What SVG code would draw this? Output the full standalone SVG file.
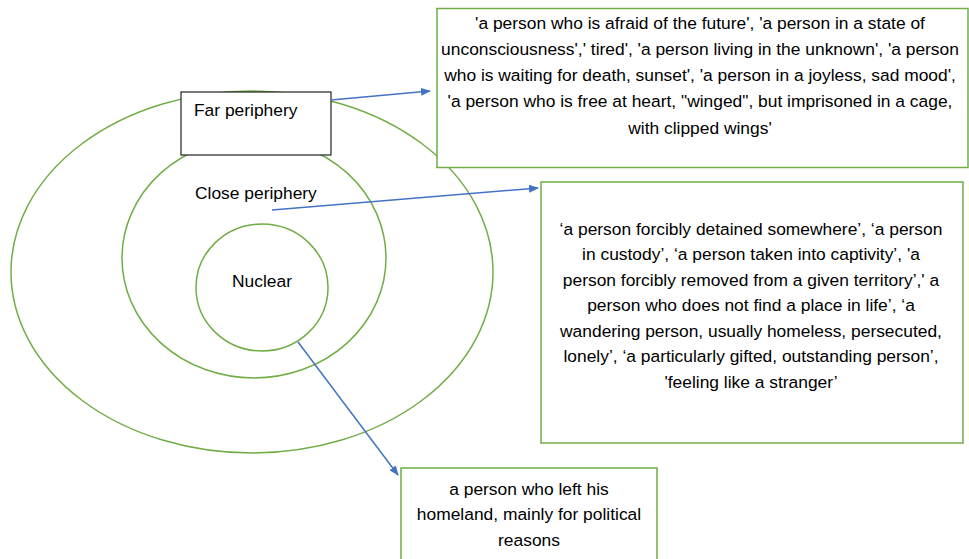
<svg xmlns="http://www.w3.org/2000/svg" width="969" height="559" viewBox="0 0 969 559">
<defs>
<marker id="ah" markerWidth="10" markerHeight="8" refX="9" refY="4" orient="auto" markerUnits="userSpaceOnUse">
<path d="M0,0 L10,4 L0,8 Z" fill="#4472C4"/>
</marker>
<style>
.g{fill:none;stroke:#70AD47;stroke-width:1.5}
.bx{fill:#fff;stroke:#70AD47;stroke-width:1.5}
.t{font-family:"Liberation Sans",Arial,sans-serif;font-size:17.4px;fill:#000}
.c{text-anchor:middle}
.a{stroke:#4472C4;stroke-width:1.5;fill:none;marker-end:url(#ah)}
</style>
</defs>
<rect width="969" height="559" fill="#fff"/>
<g id="outer"><ellipse class="g" cx="252" cy="272" rx="241" ry="181"/></g>
<g id="close"><ellipse class="g" cx="254" cy="258" rx="132" ry="120"/></g>
<g id="nuclear"><ellipse class="g" cx="262" cy="287.5" rx="66" ry="63.5"/><text class="t c" x="262" y="287">Nuclear</text></g>
<g id="far-label"><rect x="181" y="92" width="150" height="63" fill="#fff" stroke="#222" stroke-width="1.2"/><text class="t" x="194" y="116">Far periphery</text></g>
<g id="close-label"><text class="t" x="195" y="199">Close periphery</text></g>
<g id="box-far"><rect class="bx" x="437" y="8.5" width="531" height="159"/>
<text class="t c" x="700"><tspan x="700" y="29">'a person who is afraid of the future', 'a person in a state of</tspan><tspan x="700" y="55">unconsciousness',' tired', 'a person living in the unknown', 'a person</tspan><tspan x="700" y="81">who is waiting for death, sunset', 'a person in a joyless, sad mood',</tspan><tspan x="700" y="107">'a person who is free at heart, "winged", but imprisoned in a cage,</tspan><tspan x="700" y="134">with clipped wings'</tspan></text></g>
<g id="box-close"><rect class="bx" x="541" y="182" width="422" height="261"/>
<text class="t c"><tspan x="751" y="235">‘a person forcibly detained somewhere’, ‘a person</tspan><tspan x="751" y="260">in custody’, ‘a person taken into captivity’, 'a</tspan><tspan x="751" y="286">person forcibly removed from a given territory’,' a</tspan><tspan x="751" y="311">person who does not find a place in life’, ‘a</tspan><tspan x="751" y="337">wandering person, usually homeless, persecuted,</tspan><tspan x="751" y="362">lonely’, ‘a particularly gifted, outstanding person’,</tspan><tspan x="751" y="388">'feeling like a stranger’</tspan></text></g>
<g id="box-nuclear"><rect class="bx" x="401" y="468" width="256" height="100"/>
<text class="t c"><tspan x="529" y="495">a person who left his</tspan><tspan x="529" y="520">homeland, mainly for political</tspan><tspan x="529" y="546">reasons</tspan></text></g>
<g id="connectors">
<line class="a" x1="331" y1="100" x2="430" y2="91"/>
<line class="a" x1="272" y1="210" x2="538" y2="188"/>
<line class="a" x1="298" y1="342" x2="398" y2="475"/>
</g>
</svg>
